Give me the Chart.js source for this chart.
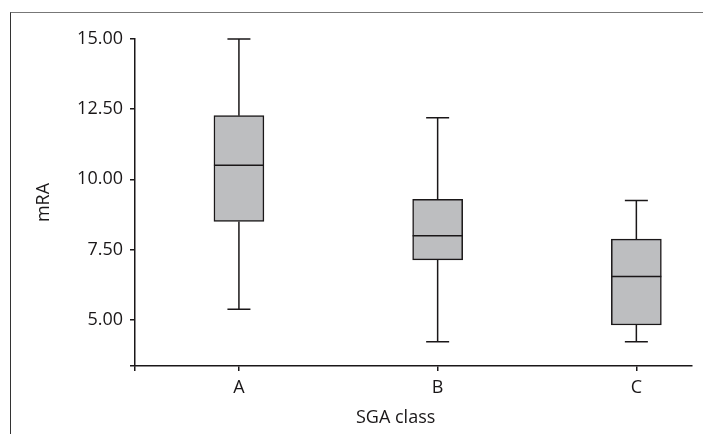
<!DOCTYPE html>
<html>
<head>
<meta charset="utf-8">
<script src="https://cdn.jsdelivr.net/npm/chart.js@4/dist/chart.umd.min.js"></script>
<style>
    html, body { margin: 0; padding: 0; background: #fff; }
    #wrap { position: relative; width: 703px; height: 434px; }
    #frame {
        position: absolute; left: 10px; top: 12px; right: 0; bottom: 0;
        border-left: 1.5px solid #333; border-top: 1.5px solid #777;
    }
    canvas { position: absolute; left: 0; top: 0; }
</style>
</head>
<body>
<div id="wrap">
    <div id="frame"></div>
    <canvas id="chart" width="703" height="434"></canvas>
</div>
<script>
// SGA class categories and box plot stats (mRA)
const categories = ['A', 'B', 'C'];
const whiskerLow = [5.37, 4.21, 4.21];
const q1 = [8.50, 7.13, 4.81];
const median = [10.50, 7.99, 6.54];
const q3 = [12.27, 9.29, 7.87];
const whiskerHigh = [15.00, 12.19, 9.25];
const yTicks = [5, 7.5, 10, 12.5, 15];

const ink = '#1a1718';
const boxFill = '#bdbec0';
const fontFamily = '"Open Sans", "Noto Sans", sans-serif';

const whiskerPlugin = {
    id: 'whiskers',
    afterDatasetsDraw(chart) {
        const ctx = chart.ctx;
        const xs = chart.scales.x;
        const ys = chart.scales.y;
        ctx.save();
        ctx.strokeStyle = ink;
        ctx.lineWidth = 1.5;
        categories.forEach((c, i) => {
            const x = xs.getPixelForValue(i);
            const lo = ys.getPixelForValue(whiskerLow[i]);
            const hi = ys.getPixelForValue(whiskerHigh[i]);
            const b = ys.getPixelForValue(q1[i]);
            const t = ys.getPixelForValue(q3[i]);
            const m = ys.getPixelForValue(median[i]);
            ctx.beginPath();
            ctx.moveTo(x, lo); ctx.lineTo(x, b);
            ctx.moveTo(x, t); ctx.lineTo(x, hi);
            ctx.moveTo(x - 11.5, lo); ctx.lineTo(x + 11.5, lo);
            ctx.moveTo(x - 11.5, hi); ctx.lineTo(x + 11.5, hi);
            ctx.moveTo(x - 25, m); ctx.lineTo(x + 25, m);
            ctx.stroke();
        });
        // x axis title
        ctx.fillStyle = ink;
        ctx.font = '18px ' + fontFamily;
        ctx.textAlign = 'center';
        ctx.textBaseline = 'middle';
        ctx.fillText('SGA class', xs.getPixelForValue(1) - 42, 418);
        ctx.restore();
    }
};

new Chart(document.getElementById('chart'), {
    type: 'bar',
    data: {
        datasets: [{
            data: categories.map((c, i) => ({ x: i, y: [q1[i], q3[i]] })),
            backgroundColor: boxFill,
            borderColor: ink,
            borderWidth: 1.5,
            borderSkipped: false,
            barThickness: 50
        }]
    },
    options: {
        responsive: false,
        animation: false,
        layout: { padding: { top: 39, right: 11, left: 0, bottom: 0 } },
        plugins: { legend: { display: false }, tooltip: { enabled: false } },
        scales: {
            x: {
                type: 'linear',
                offset: false,
                min: -0.523,
                max: 2.28,
                afterBuildTicks(scale) {
                    scale.ticks = [{ value: scale.min }].concat(categories.map((c, i) => ({ value: i })));
                },
                afterFit(scale) { scale.height = 68; },
                ticks: {
                    color: ink,
                    font: { family: fontFamily, size: 18 },
                    padding: 6,
                    maxRotation: 0,
                    autoSkip: false,
                    callback: v => (Number.isInteger(v) && categories[v] !== undefined) ? categories[v] : ''
                },
                grid: { offset: false, drawOnChartArea: false, tickLength: 5, color: ink, lineWidth: 1.5 },
                border: { display: true, color: ink, width: 1.5 }
            },
            y: {
                min: 3.35,
                max: 15,
                afterBuildTicks(scale) {
                    scale.ticks = [{ value: scale.min }].concat(yTicks.map(v => ({ value: v })));
                },
                afterFit(scale) { scale.width = 135; },
                ticks: {
                    color: ink,
                    font: { family: fontFamily, size: 18 },
                    padding: 7,
                    autoSkip: false,
                    callback: v => yTicks.includes(v) ? v.toFixed(2) : ''
                },
                grid: { drawOnChartArea: false, tickLength: 5, color: ink, lineWidth: 1.5 },
                border: { display: true, color: ink, width: 1.5 },
                title: {
                    display: true,
                    text: 'mRA',
                    color: ink,
                    font: { family: fontFamily, size: 18 },
                    padding: { top: 33, bottom: 0 }
                }
            }
        }
    },
    plugins: [whiskerPlugin]
});
</script>
</body>
</html>
